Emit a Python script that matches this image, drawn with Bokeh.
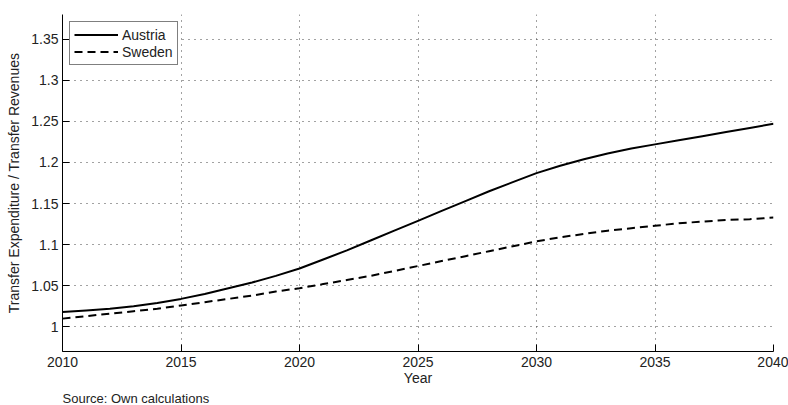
from bokeh.plotting import figure
from bokeh.models import FixedTicker, Legend, LegendItem, Title, Range1d
from bokeh.embed import file_html
from bokeh.resources import INLINE

years = list(range(2010, 2041))
austria = [1.018, 1.020, 1.022, 1.025, 1.029, 1.034, 1.040, 1.047, 1.054, 1.062,
           1.071, 1.082, 1.093, 1.105, 1.117, 1.129, 1.141, 1.153, 1.165, 1.176,
           1.187, 1.196, 1.204, 1.211, 1.217, 1.222, 1.227, 1.232, 1.237, 1.242, 1.247]
sweden = [1.010, 1.013, 1.016, 1.019, 1.022, 1.026, 1.030, 1.034, 1.038, 1.043,
          1.047, 1.052, 1.057, 1.062, 1.068, 1.074, 1.080, 1.086, 1.092, 1.098,
          1.104, 1.109, 1.113, 1.117, 1.120, 1.123, 1.126, 1.128, 1.130, 1.131, 1.133]
x_ticks = [2010, 2015, 2020, 2025, 2030, 2035, 2040]
y_ticks = [1.0, 1.05, 1.1, 1.15, 1.2, 1.25, 1.3, 1.35]
y_tick_labels = ["1", "1.05", "1.1", "1.15", "1.2", "1.25", "1.3", "1.35"]
source_text = "Source: Own calculations"

FONT = "Liberation Sans"
FS = "14px"

p = figure(width=788, height=405, output_backend="svg", toolbar_location=None,
           x_range=Range1d(2010, 2040), y_range=Range1d(0.97, 1.38),
           min_border_left=62, min_border_right=15, min_border_top=14, min_border_bottom=40)
p.outline_line_color = None

r1 = p.line(years, austria, line_color="black", line_width=2)
r2 = p.line(years, sweden, line_color="black", line_width=2, line_dash="8 5")

for ax in (p.xaxis[0], p.yaxis[0]):
    ax.major_tick_in = 7
    ax.major_tick_out = 0
    ax.minor_tick_line_color = None
    ax.axis_line_color = "black"
    ax.major_tick_line_color = "black"
    ax.major_label_text_font = FONT
    ax.major_label_text_font_size = FS
    ax.major_label_text_color = "#222222"
    ax.axis_label_text_font = FONT
    ax.axis_label_text_font_size = FS
    ax.axis_label_text_font_style = "normal"
    ax.axis_label_text_color = "#222222"

p.xaxis.ticker = FixedTicker(ticks=x_ticks)
p.yaxis.ticker = FixedTicker(ticks=y_ticks)
p.yaxis.major_label_overrides = {t: l for t, l in zip(y_ticks, y_tick_labels)}
p.xaxis.axis_label = "Year"
p.yaxis.axis_label = "Transfer Expenditure / Transfer Revenues"
p.xaxis.major_label_standoff = 5
p.xaxis.axis_label_standoff = 0
p.yaxis.major_label_standoff = 4
p.yaxis.axis_label_standoff = 6

for g in (p.xgrid[0], p.ygrid[0]):
    g.grid_line_color = "#444444"
    g.grid_line_dash = "1 5"
    g.grid_line_width = 1

legend = Legend(items=[LegendItem(label="Austria", renderers=[r1]),
                       LegendItem(label="Sweden", renderers=[r2])],
                location="top_left")
legend.label_text_font = FONT
legend.label_text_font_size = FS
legend.label_text_color = "#222222"
legend.border_line_color = "black"
legend.border_line_width = 1
legend.margin = 7
legend.padding = 4
legend.spacing = 0
legend.glyph_width = 44
legend.glyph_height = 17
legend.label_height = 17
legend.label_standoff = 4
legend.background_fill_alpha = 1
p.add_layout(legend)

src = Title(text=source_text, align="left", offset=0, standoff=0,
            text_font=FONT, text_font_size="13px", text_font_style="normal",
            text_color="#222222")
p.add_layout(src, "below")

open("out.html", "w").write(file_html(p, INLINE))
